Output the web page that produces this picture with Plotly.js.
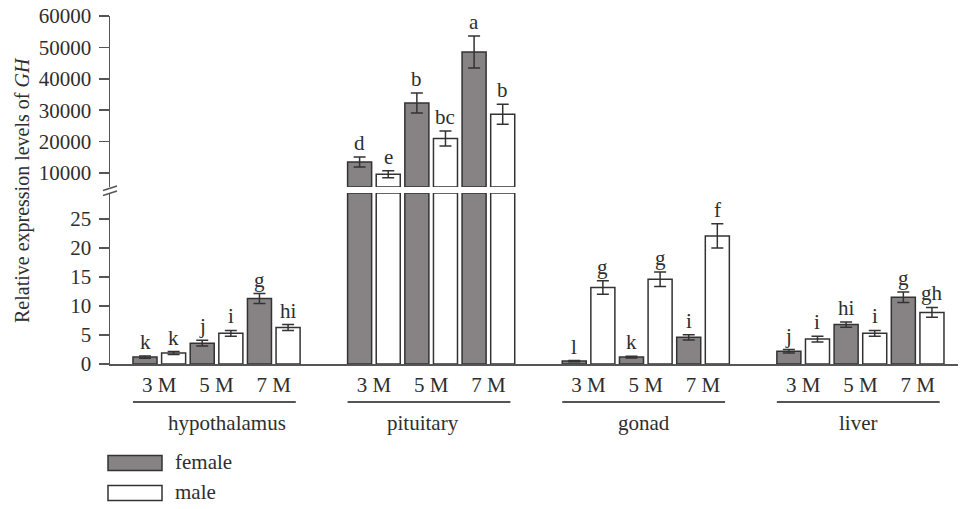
<!DOCTYPE html>
<html>
<head>
<meta charset="utf-8">
<script src="https://cdn.plot.ly/plotly-3.0.1.min.js"></script>
<style>html,body{margin:0;padding:0;background:#fff;}#chart{width:961px;height:509px;}</style>
</head>
<body>
<div id="chart"></div>
<script>
// ---- data ----
const tissues = ['hypothalamus', 'pituitary', 'gonad', 'liver'];
const months = ['3 M', '5 M', '7 M'];
const femaleValues = {
  hypothalamus: [1.2, 3.6, 11.3],
  pituitary: [13500, 32300, 48500],
  gonad: [0.5, 1.2, 4.6],
  liver: [2.2, 6.8, 11.5]
};
const femaleErrors = {
  hypothalamus: [0.2, 0.5, 0.85],
  pituitary: [1600, 3200, 5100],
  gonad: [0.1, 0.15, 0.45],
  liver: [0.3, 0.45, 0.9]
};
const femaleLetters = {
  hypothalamus: ['k', 'j', 'g'],
  pituitary: ['d', 'b', 'a'],
  gonad: ['l', 'k', 'i'],
  liver: ['j', 'hi', 'g']
};
const maleValues = {
  hypothalamus: [1.9, 5.3, 6.3],
  pituitary: [9600, 21000, 28700],
  gonad: [13.2, 14.6, 22.1],
  liver: [4.3, 5.3, 8.9]
};
const maleErrors = {
  hypothalamus: [0.25, 0.5, 0.5],
  pituitary: [1100, 2400, 3200],
  gonad: [1.15, 1.25, 2.1],
  liver: [0.5, 0.5, 0.85]
};
const maleLetters = {
  hypothalamus: ['k', 'i', 'hi'],
  pituitary: ['e', 'bc', 'b'],
  gonad: ['g', 'g', 'f'],
  liver: ['i', 'i', 'gh']
};
const lowerTicks = [0, 5, 10, 15, 20, 25];
const upperTicks = [10000, 20000, 30000, 40000, 50000, 60000];
const sexes = ['female', 'male'];

// ---- layout constants ----
const LOWER_MAX = 29.5;
const UPPER_MIN = 5540, UPPER_MAX = 60000;
const TISSUE_STEP = 7.5, MONTH_STEP = 2, BAR_W = 0.84;
const FONT = '"Liberation Serif", serif';
const TXT = '#2e2e2e';
const FEMALE_FILL = '#878384', MALE_FILL = '#ffffff', EDGE = '#333333', AXIS = '#555555';
const PL = 110, PR = 3, PT = 16, PB = 145, W = 961, H = 509;
const PW = W - PL - PR, PH = H - PT - PB;
const px2x = p => (p - PL) / PW;
const py2y = p => (H - PB - p) / PH;
const fnt = (size) => ({family: FONT, size: size, color: TXT});

const series = {
  female: {vals: femaleValues, errs: femaleErrors, letters: femaleLetters, fill: FEMALE_FILL, off: 0},
  male: {vals: maleValues, errs: maleErrors, letters: maleLetters, fill: MALE_FILL, off: 1}
};

const traces = [];
const annotations = [];
sexes.forEach(sex => {
  const s = series[sex];
  const low = {x: [], y: [], e: []}, lowClip = {x: [], y: []}, up = {x: [], y: [], e: []};
  tissues.forEach((t, ti) => {
    months.forEach((m, mi) => {
      const x = ti * TISSUE_STEP + mi * MONTH_STEP + s.off;
      const v = s.vals[t][mi], e = s.errs[t][mi];
      const onUpper = v > LOWER_MAX;
      if (onUpper) {
        lowClip.x.push(x); lowClip.y.push(Math.min(v, LOWER_MAX));
        up.x.push(x); up.y.push(v - UPPER_MIN); up.e.push(e);
      } else {
        low.x.push(x); low.y.push(v); low.e.push(e);
      }
      annotations.push({x: x, y: v + e, xref: 'x', yref: onUpper ? 'y2' : 'y', text: s.letters[t][mi],
        showarrow: false, yanchor: 'bottom', yshift: 0, font: fnt(21)});
    });
  });
  const marker = {color: s.fill, line: {color: EDGE, width: 1.5}};
  const err = arr => ({type: 'data', array: arr, visible: true, color: EDGE, thickness: 1.5, width: 6});
  traces.push({type: 'bar', name: sex, x: low.x, y: low.y, width: BAR_W, marker: marker,
    error_y: err(low.e), xaxis: 'x', yaxis: 'y', showlegend: false, hoverinfo: 'skip'});
  traces.push({type: 'bar', name: sex, x: lowClip.x, y: lowClip.y, width: BAR_W, marker: marker,
    xaxis: 'x', yaxis: 'y', showlegend: false, hoverinfo: 'skip'});
  traces.push({type: 'bar', name: sex, x: up.x, y: up.y, base: UPPER_MIN, width: BAR_W, marker: marker,
    error_y: err(up.e), xaxis: 'x', yaxis: 'y2', showlegend: false, hoverinfo: 'skip'});
});

// month tick labels
const tickvals = [], ticktext = [];
tissues.forEach((t, ti) => months.forEach((m, mi) => {
  tickvals.push(ti * TISSUE_STEP + mi * MONTH_STEP + 0.5);
  ticktext.push(m);
}));

const shapes = [];
// tissue underlines and labels
const labelShift = [0.45, -0.2, 0, 0];
tissues.forEach((t, ti) => {
  const x0 = ti * TISSUE_STEP - BAR_W / 2;
  const x1 = ti * TISSUE_STEP + 2 * MONTH_STEP + 1 + BAR_W / 2 - 0.15;
  shapes.push({type: 'line', xref: 'x', yref: 'paper', x0: x0, x1: x1, y0: py2y(402), y1: py2y(402),
    line: {color: AXIS, width: 2}});
  annotations.push({x: (x0 + x1) / 2 + labelShift[ti], y: py2y(423), xref: 'x', yref: 'paper', text: t,
    showarrow: false, xanchor: 'center', yanchor: 'middle', font: fnt(21)});
});

// axis break marks
shapes.push({type: 'line', xref: 'paper', yref: 'paper', x0: px2x(103), y0: py2y(190.5), x1: px2x(117), y1: py2y(186),
  line: {color: AXIS, width: 1.5}});
shapes.push({type: 'line', xref: 'paper', yref: 'paper', x0: px2x(103), y0: py2y(195.5), x1: px2x(117), y1: py2y(191),
  line: {color: AXIS, width: 1.5}});

// legend
sexes.forEach((sex, i) => {
  const cy = 463 + i * 30;
  shapes.push({type: 'rect', xref: 'paper', yref: 'paper', x0: px2x(108), x1: px2x(162),
    y0: py2y(cy - 7.5), y1: py2y(cy + 7.5), fillcolor: series[sex].fill, line: {color: EDGE, width: 1.5}});
  annotations.push({x: px2x(173), y: py2y(cy - 1), xref: 'paper', yref: 'paper', text: sex, showarrow: false,
    xanchor: 'left', yanchor: 'middle', font: fnt(21)});
});

// y-axis title
annotations.push({x: px2x(22), y: py2y(190), xref: 'paper', yref: 'paper', textangle: -90,
  text: 'Relative expression levels of <i>GH</i>', showarrow: false, xanchor: 'center', yanchor: 'middle',
  font: fnt(20)});

const yStyle = {
  showline: true, linecolor: AXIS, linewidth: 1.5, ticks: 'outside', ticklen: 10, tickwidth: 1.5,
  tickcolor: AXIS, showgrid: false, zeroline: false, tickfont: fnt(21),
  ticklabelstandoff: 3, fixedrange: true, tickformat: 'd'
};

const layout = {
  width: W, height: H,
  margin: {l: PL, r: PR, t: PT, b: PB, pad: 0},
  paper_bgcolor: '#ffffff', plot_bgcolor: '#ffffff',
  barmode: 'overlay',
  showlegend: false,
  font: fnt(20),
  xaxis: {
    range: [-1.223, 28.41], showline: true, linecolor: AXIS, linewidth: 1.5, ticks: '',
    tickmode: 'array', tickvals: tickvals, ticktext: ticktext, showgrid: false, zeroline: false,
    tickfont: fnt(21), ticklabelstandoff: 1, anchor: 'y', fixedrange: true
  },
  yaxis: Object.assign({}, yStyle, {domain: [0, py2y(193)], range: [0, LOWER_MAX],
    tickmode: 'array', tickvals: lowerTicks, anchor: 'x'}),
  yaxis2: Object.assign({}, yStyle, {domain: [py2y(187), 1], range: [UPPER_MIN, UPPER_MAX],
    tickmode: 'array', tickvals: upperTicks, ticktext: upperTicks.map(String), anchor: 'x'}),
  shapes: shapes,
  annotations: annotations
};

Plotly.newPlot('chart', traces, layout, {displayModeBar: false, staticPlot: true});
</script>
</body>
</html>
